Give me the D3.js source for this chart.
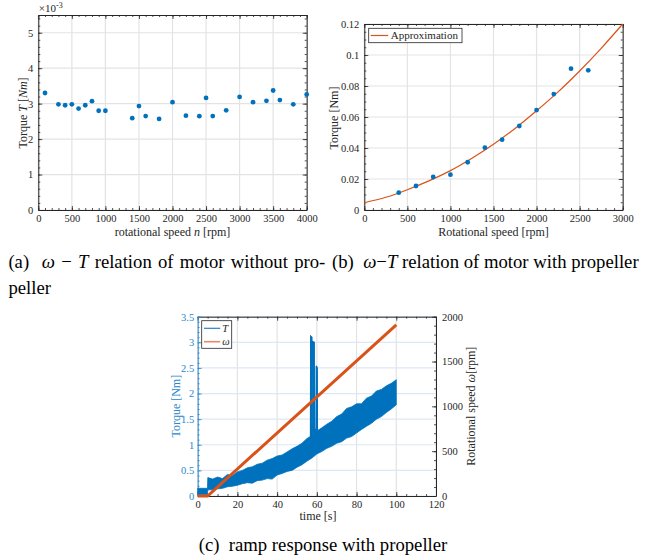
<!DOCTYPE html>
<html>
<head>
<meta charset="utf-8">
<script src="https://cdn.jsdelivr.net/npm/d3@7"></script>
<style>
body { margin: 0; background: #fff; }
svg text { font-family: "Liberation Serif", "Times New Roman", serif; }
.tick text { font-size: 10.5px; }
.lab { font-size: 12px; fill: #262626; }
.cap { font-size: 18.7px; fill: #000; white-space: pre; }
</style>
</head>
<body>
<script>
// (a) motor without propeller, torque in 1e-3 Nm
var speedA = [100, 300, 400, 500, 600, 700, 800, 900, 1000, 1400, 1500, 1600, 1800,
              2000, 2200, 2400, 2500, 2600, 2800, 3000, 3200, 3400, 3500, 3600, 3800, 4000];
var torqueA = [3.30, 2.98, 2.955, 2.98, 2.86, 2.955, 3.07, 2.80, 2.80, 2.59, 2.93, 2.65, 2.57,
               3.04, 2.66, 2.645, 3.16, 2.65, 2.81, 3.19, 3.04, 3.08, 3.37, 3.10, 2.98, 3.26];

// (b) motor with propeller
var speedB = [400, 600, 800, 1000, 1200, 1400, 1600, 1800, 2000, 2200, 2400, 2600];
var torqueB = [0.0112, 0.0155, 0.0213, 0.0228, 0.0308, 0.0402, 0.0454, 0.0542, 0.0645, 0.0748, 0.0912, 0.0901];
var approxSpeed = [0, 250, 500, 750, 1000, 1250, 1500, 1750, 2000, 2250, 2500, 2750, 3000];
var approxTorque = [0.0047, 0.0082, 0.0131, 0.0188, 0.0254, 0.0334, 0.0424, 0.0526, 0.0640, 0.0762, 0.0897, 0.1043, 0.1200];

// (c) ramp response: envelope of the noisy torque signal, spikes, speed ramp
var rampTime = [0, 4.9, 5.1, 7.5, 10, 12.5, 15, 17.5, 20, 22.5, 25, 27.5, 30, 32.5, 35, 37.5, 40, 42.5,
                45, 47.5, 50, 52.5, 55, 57.5, 60, 62.5, 65, 67.5, 70, 72.5, 75, 77.5, 80, 82.5, 85,
                87.5, 90, 92.5, 95, 97.5, 100];
var rampLow  = [0.03, 0.03, 0.12, 0.12, 0.14, 0.15, 0.18, 0.19, 0.21, 0.24, 0.26, 0.25, 0.30, 0.31, 0.34, 0.33, 0.41, 0.44,
                0.48, 0.50, 0.56, 0.61, 0.68, 0.74, 0.82, 0.87, 0.93, 0.97, 1.03, 1.06, 1.13, 1.16, 1.23, 1.30, 1.36,
                1.42, 1.50, 1.55, 1.63, 1.70, 1.78];
var rampHigh = [0.15, 0.15, 0.36, 0.33, 0.37, 0.34, 0.42, 0.40, 0.47, 0.50, 0.55, 0.57, 0.62, 0.64, 0.70, 0.73, 0.78, 0.80,
                0.86, 0.92, 0.97, 1.03, 1.12, 1.18, 1.27, 1.33, 1.40, 1.46, 1.55, 1.60, 1.71, 1.74, 1.80, 1.80, 1.91,
                1.95, 2.05, 2.08, 2.15, 2.20, 2.27];
var spikeTime  = [56.8, 56.9, 57.5, 57.6, 57.8, 58.7, 58.8, 59.6, 59.7, 60.2, 60.3];
var spikeValue = [1.15, 3.12, 3.10, 1.30, 3.02, 3.00, 1.30, 1.30, 2.54, 2.50, 1.20];
var omegaTime  = [0, 5, 100];
var omegaValue = [0, 0, 1910];

// tick labels
var ticksAx = [0, 500, 1000, 1500, 2000, 2500, 3000, 3500, 4000];
var ticksAy = [0, 1, 2, 3, 4, 5];
var ticksBx = [0, 500, 1000, 1500, 2000, 2500, 3000];
var ticksBy = [0, 0.02, 0.04, 0.06, 0.08, 0.1, 0.12];
var ticksCx = [0, 20, 40, 60, 80, 100, 120];
var ticksCl = [0, 0.5, 1, 1.5, 2, 2.5, 3, 3.5];
var ticksCr = [0, 500, 1000, 1500, 2000];

var blue = "#0072BD", orange = "#D95319", ink = "#262626";
var leftBlue = "#2b87cc";

var svg = d3.select("body").append("svg").attr("width", 652).attr("height", 560);

function grid(g, x, y, xt, yt, cx, cy) {
  var w = x.range()[1], h = y.range()[0];
  g.append("g").selectAll("line").data(xt).join("line")
    .attr("x1", function(d) { return x(d); }).attr("x2", function(d) { return x(d); })
    .attr("y1", 0).attr("y2", h).attr("stroke", cx).attr("stroke-width", 1.2);
  g.append("g").selectAll("line").data(yt).join("line")
    .attr("y1", function(d) { return y(d); }).attr("y2", function(d) { return y(d); })
    .attr("x1", 0).attr("x2", w).attr("stroke", cy).attr("stroke-width", 1.2);
}

function ax(g, axis, tr, color) {
  var a = g.append("g").attr("transform", tr).call(axis);
  a.attr("font-family", null).attr("font-size", null).attr("color", color);
  a.selectAll(".tick line").attr("stroke-width", 0.8);
  return a;
}

function minor(step, lo, hi) { return d3.range(lo, hi + step / 2, step); }

// major+minor ticks on one side
function side(g, make, scale, major, minorStep, tr, color, fmt, pad) {
  var d = scale.domain();
  ax(g, make(scale).tickValues(minor(minorStep, d[0], d[1])).tickSize(-2).tickSizeOuter(0).tickFormat(""), tr, color)
    .select(".domain").remove();
  ax(g, make(scale).tickValues(major).tickSize(-4).tickSizeOuter(0).tickPadding(pad)
    .tickFormat(fmt || ""), tr, color);
}

function label(g, txt, x, y, rot, color) {
  var t = g.append("text").attr("class", "lab").attr("text-anchor", "middle")
    .attr("transform", "translate(" + x + "," + y + ")" + (rot ? " rotate(-90)" : ""));
  if (color) t.style("fill", color);
  txt.forEach(function(p) {
    t.append("tspan").attr("font-style", p[1] ? "italic" : null).text(p[0]);
  });
  return t;
}

var num = function(d) { return String(d); };

// ---------- (a) ----------
var gA = svg.append("g").attr("transform", "translate(38.3,15)");
var xA = d3.scaleLinear().domain([0, 4000]).range([0, 268.4]);
var yA = d3.scaleLinear().domain([0, 5.5]).range([195, 0]);
grid(gA, xA, yA, ticksAx, ticksAy, "#e3e3e3", "#e3e3e3");
side(gA, d3.axisBottom, xA, ticksAx, 100, "translate(0,195)", ink, num, 5);
side(gA, d3.axisTop, xA, ticksAx, 100, "translate(0,0)", ink, null, 5);
side(gA, d3.axisLeft, yA, ticksAy, 0.2, "translate(0,0)", ink, num, 5);
side(gA, d3.axisRight, yA, ticksAy, 0.2, "translate(268.4,0)", ink, null, 5);
gA.selectAll("circle").data(speedA).join("circle")
  .attr("cx", function(d) { return xA(d); })
  .attr("cy", function(d, i) { return yA(torqueA[i]); })
  .attr("r", 2.4).attr("fill", blue);
var ex = gA.append("text").attr("class", "lab").attr("x", 0.5).attr("y", -3).style("font-size", "11px");
ex.append("tspan").text("×10");
ex.append("tspan").attr("dy", -4.5).style("font-size", "8px").text("-3");
label(gA, [["Torque "], ["T", 1], [" ["], ["Nm", 1], ["]"]], -11.5, 98, true);
label(gA, [["rotational speed "], ["n", 1], [" [rpm]"]], 134.2, 220.5);

// ---------- (b) ----------
var gB = svg.append("g").attr("transform", "translate(364.3,24)");
var xB = d3.scaleLinear().domain([0, 3000]).range([0, 258.4]);
var yB = d3.scaleLinear().domain([0, 0.12]).range([186, 0]);
grid(gB, xB, yB, ticksBx, ticksBy, "#e3e3e3", "#e3e3e3");
side(gB, d3.axisBottom, xB, ticksBx, 100, "translate(0,186)", ink, num, 5);
side(gB, d3.axisTop, xB, ticksBx, 100, "translate(0,0)", ink, null, 5);
side(gB, d3.axisLeft, yB, ticksBy, 0.005, "translate(0,0)", ink, num, 5);
side(gB, d3.axisRight, yB, ticksBy, 0.005, "translate(258.4,0)", ink, null, 5);
gB.append("path")
  .datum(approxSpeed)
  .attr("d", d3.line().curve(d3.curveNatural)
    .x(function(d) { return xB(d); })
    .y(function(d, i) { return yB(approxTorque[i]); }))
  .attr("fill", "none").attr("stroke", orange).attr("stroke-width", 1.2);
gB.selectAll("circle").data(speedB).join("circle")
  .attr("cx", function(d) { return xB(d); })
  .attr("cy", function(d, i) { return yB(torqueB[i]); })
  .attr("r", 2.4).attr("fill", blue);
label(gB, [["Torque [Nm]"]], -26.5, 94, true);
label(gB, [["Rotational speed [rpm]"]], 129.2, 211.5);
var lgB = gB.append("g").attr("transform", "translate(4.4,4.3)");
lgB.append("rect").attr("width", 93.3).attr("height", 14.4).attr("fill", "#fff")
  .attr("stroke", ink).attr("stroke-width", 0.8);
lgB.append("line").attr("x1", 2).attr("x2", 19.5).attr("y1", 7.2).attr("y2", 7.2)
  .attr("stroke", orange).attr("stroke-width", 1.2);
lgB.append("text").attr("class", "lab").attr("x", 22).attr("y", 11).style("font-size", "11px").text("Approximation");

// ---------- (c) ----------
var gC = svg.append("g").attr("transform", "translate(197.7,316.7)");
var xC = d3.scaleLinear().domain([0, 120]).range([0, 238.3]);
var yCl = d3.scaleLinear().domain([0, 3.5]).range([179.3, 0]);
var yCr = d3.scaleLinear().domain([0, 2000]).range([179.3, 0]);
grid(gC, xC, yCl, ticksCx, ticksCl, "#e3e3e3", "#dce8f3");
side(gC, d3.axisBottom, xC, ticksCx, 5, "translate(0,179.3)", ink, num, 5);
side(gC, d3.axisTop, xC, ticksCx, 5, "translate(0,0)", ink, null, 5);
side(gC, d3.axisLeft, yCl, ticksCl, 0.1, "translate(0,0)", leftBlue, num, 3.5);
side(gC, d3.axisRight, yCr, ticksCr, 100, "translate(238.3,0)", ink, num, 6);

gC.append("path")
  .datum(rampTime)
  .attr("d", d3.area()
    .x(function(d) { return xC(d); })
    .y0(function(d, i) { return yCl(rampLow[i]); })
    .y1(function(d, i) { return yCl(rampHigh[i]); }))
  .attr("fill", blue).attr("stroke", blue).attr("stroke-width", 0.8);
gC.append("path")
  .datum(spikeTime)
  .attr("d", d3.line()
    .x(function(d) { return xC(d); })
    .y(function(d, i) { return yCl(spikeValue[i]); }))
  .attr("fill", blue).attr("stroke", blue).attr("stroke-width", 1.3);
gC.append("path")
  .datum(omegaTime)
  .attr("d", d3.line()
    .x(function(d) { return xC(d); })
    .y(function(d, i) { return yCr(omegaValue[i]); }))
  .attr("fill", "none").attr("stroke", orange).attr("stroke-width", 3);

label(gC, [["Torque [Nm]"]], -18.2, 89.5, true, leftBlue);
label(gC, [["Rotational speed "], ["ω", 1], ["[rpm]"]], 277.3, 89.5, true);
label(gC, [["time [s]"]], 120.3, 203.3);

var lgC = gC.append("g").attr("transform", "translate(4,4)");
lgC.append("rect").attr("width", 30).attr("height", 27.6).attr("fill", "#fff")
  .attr("stroke", ink).attr("stroke-width", 0.8);
lgC.append("line").attr("x1", 2.3).attr("x2", 18.5).attr("y1", 7.6).attr("y2", 7.6)
  .attr("stroke", "#2a7fc4").attr("stroke-width", 1.2);
lgC.append("line").attr("x1", 2.3).attr("x2", 18.5).attr("y1", 21).attr("y2", 21)
  .attr("stroke", "#e58a68").attr("stroke-width", 1.6);
lgC.append("text").attr("class", "lab").attr("x", 20.5).attr("y", 11).attr("font-style", "italic").style("font-size", "10.5px").text("T");
lgC.append("text").attr("class", "lab").attr("x", 20.5).attr("y", 24.3).attr("font-style", "italic").style("font-size", "10.5px").text("ω");

// ---------- captions ----------
function caption(parts, x, y, anchor) {
  var t = svg.append("text").attr("class", "cap").attr("x", x).attr("y", y)
    .attr("text-anchor", anchor || "start");
  parts.forEach(function(p) {
    t.append("tspan").attr("font-style", p[1] ? "italic" : null).text(p[0]);
  });
  return t;
}
caption([["(a)  "], ["ω", 1], [" − "], ["T", 1], [" relation of motor without pro-"]], 8.4, 268)
  .attr("word-spacing", 1.6);
caption([["peller"]], 8.4, 294);
caption([["(b)  "], ["ω", 1], ["−"], ["T", 1], [" relation of motor with propeller"]], 332, 268);
caption([["(c)  ramp response with propeller"]], 323, 551, "middle");
</script>
</body>
</html>
